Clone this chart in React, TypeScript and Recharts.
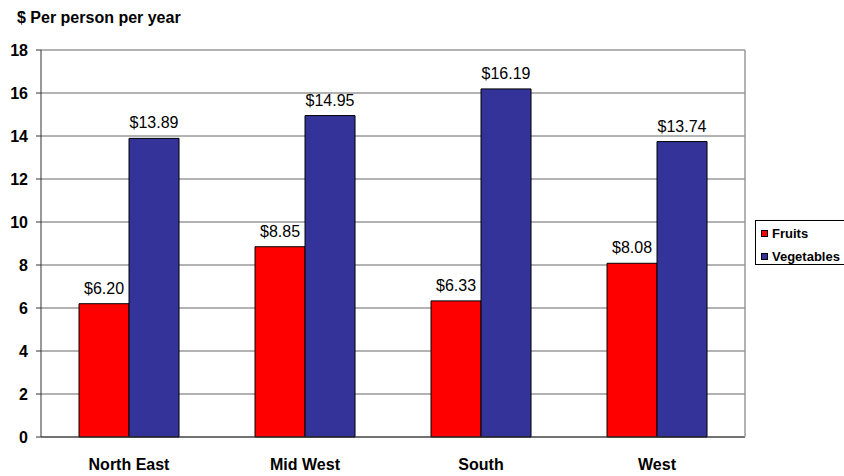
import { BarChart, Bar, XAxis, YAxis, CartesianGrid, LabelList } from 'recharts';

const regions = ['North East', 'Mid West', 'South', 'West'];
const fruits = [6.2, 8.85, 6.33, 8.08];
const vegetables = [13.89, 14.95, 16.19, 13.74];
const yTicks = [0, 2, 4, 6, 8, 10, 12, 14, 16, 18];
const boundaryTicks = [1, 2, 3];

const FONT = '"Liberation Sans", Arial, sans-serif';

const rows = regions.map((region, i) => ({ region, fruits: fruits[i], vegetables: vegetables[i] }));

function LegendBox() {
  const items = [
    { name: 'Fruits', color: '#FF0000' },
    { name: 'Vegetables', color: '#333399' },
  ];
  return (
    <div style={{ position: 'absolute', left: 755, top: 220, width: 110, height: 45, border: '1px solid #000', background: '#fff', paddingTop: 1, paddingLeft: 5, fontFamily: FONT, fontSize: 13, fontWeight: 'bold', color: '#000', boxSizing: 'border-box' }}>
      {items.map(it => (
        <div key={it.name} style={{ display: 'flex', alignItems: 'center', height: 23, whiteSpace: 'nowrap' }}>
          <span style={{ display: 'inline-block', width: 5, height: 5, background: it.color, border: '1px solid #000', marginRight: 4 }} />
          {it.name}
        </div>
      ))}
    </div>
  );
}

export default function App() {
  const fmt = (v: any) => `$${Number(v).toFixed(2)}`;
  return (
    <div style={{ position: 'absolute', left: 0, top: 0, width: 844, height: 476, background: '#fff', fontFamily: FONT, overflow: 'hidden' }}>
      <div style={{ position: 'absolute', left: 17, top: 9, fontSize: 16, fontWeight: 'bold', color: '#000', whiteSpace: 'nowrap' }}>$ Per person per year</div>
      <BarChart width={844} height={476} data={rows} margin={{ top: 50, right: 0, left: 0, bottom: 0 }} barCategoryGap="21.6%" barGap={0}>
        <CartesianGrid vertical={false} stroke="#666" strokeWidth={1} />
        <XAxis xAxisId="bounds" type="number" domain={[0, 4]} ticks={boundaryTicks} allowDataOverflow height={0} mirror tick={false} axisLine={false} tickLine={{ stroke: '#777' }} tickSize={5} />
        <XAxis dataKey="region" height={39} axisLine={{ stroke: '#333' }} tickLine={false} tickSize={6} tickMargin={16} tick={{ fill: '#000', fontSize: 16, fontWeight: 'bold', fontFamily: FONT }} />
        <YAxis domain={[0, 18]} ticks={yTicks} width={41} interval={0} axisLine={{ stroke: '#333' }} tickLine={{ stroke: '#333' }} tickSize={5} tickMargin={8} tick={{ fill: '#000', fontSize: 16, fontWeight: 'bold', fontFamily: FONT }} />
        <YAxis yAxisId="right" orientation="right" domain={[0, 18]} width={99} tick={false} tickLine={false} axisLine={{ stroke: '#999', strokeWidth: 1.5 }} />
        <Bar dataKey="fruits" name="Fruits" fill="#FF0000" stroke="#000" strokeWidth={1} isAnimationActive={false}>
          <LabelList dataKey="fruits" position="top" offset={10} formatter={fmt} fill="#000" fontSize={16} fontFamily={FONT} />
        </Bar>
        <Bar dataKey="vegetables" name="Vegetables" fill="#333399" stroke="#000" strokeWidth={1} isAnimationActive={false}>
          <LabelList dataKey="vegetables" position="top" offset={10} formatter={fmt} fill="#000" fontSize={16} fontFamily={FONT} />
        </Bar>
      </BarChart>
      <LegendBox />
    </div>
  );
}
